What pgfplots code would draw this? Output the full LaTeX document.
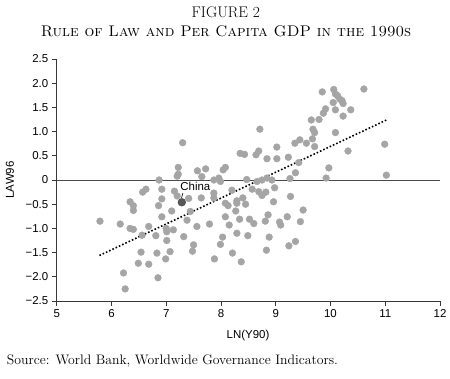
\documentclass[border=0pt]{standalone}
\usepackage{fontspec}
\newfontfamily\arial{Liberation Sans}
\usepackage{pgfplots}
\pgfplotsset{compat=1.18}
\pgfplotstableread{
x y
5.79 -0.85
6.16 -0.91
6.22 -1.92
6.25 -2.25
6.34 -0.45
6.40 -0.53
6.40 -0.63
6.34 -1.00
6.40 -1.02
6.49 -1.72
6.54 -1.49
6.56 -1.14
6.57 -0.25
6.63 -0.19
6.68 -0.96
6.68 -1.74
6.81 -1.15
6.83 -1.51
6.85 -2.02
6.86 -0.53
6.87 0.00
6.92 -0.19
6.92 -0.39
6.92 -0.76
7.00 -1.00
7.01 -1.07
7.01 -1.25
6.99 -1.63
7.07 -1.48
7.10 -0.64
7.13 -1.03
7.15 -0.23
7.20 -0.33
7.20 0.08
7.22 0.12
7.22 0.26
7.30 0.77
7.32 -1.17
7.38 -0.83
7.41 -0.38
7.44 -0.65
7.48 -1.47
7.50 -1.34
7.56 -0.96
7.57 0.19
7.64 -0.37
7.65 0.07
7.72 0.23
7.79 -0.91
7.87 0.00
7.87 -0.27
7.87 -0.37
7.88 -1.63
7.96 0.04
7.99 -0.03
7.99 -1.33
8.03 -1.18
8.04 0.21
8.08 0.26
8.08 -0.48
8.13 -0.53
8.08 -0.76
8.15 -0.93
8.20 -0.21
8.21 -1.51
8.27 -0.64
8.29 -0.43
8.29 -0.48
8.29 -1.10
8.34 -0.81
8.35 0.55
8.43 0.53
8.37 -1.69
8.40 -0.37
8.45 -0.50
8.47 0.01
8.49 -1.15
8.52 -0.81
8.57 -0.19
8.60 -0.90
8.64 0.52
8.66 -0.03
8.69 0.60
8.69 -0.24
8.71 1.05
8.75 0.00
8.75 -0.32
8.81 -0.85
8.82 -0.25
8.83 -1.45
8.84 0.44
8.84 0.04
8.86 -0.72
8.88 -1.18
8.93 0.00
8.96 -0.45
8.98 -0.16
9.02 0.68
9.02 0.44
9.07 -0.87
9.09 -0.93
9.21 -0.76
9.23 0.47
9.24 -1.36
9.26 0.03
9.27 -0.34
9.35 0.76
9.36 0.15
9.36 -1.27
9.42 0.36
9.44 0.83
9.45 -0.86
9.50 -0.62
9.56 0.76
9.65 1.24
9.67 0.85
9.68 1.05
9.71 0.98
9.71 0.69
9.79 1.25
9.85 1.82
9.87 1.38
9.91 1.47
9.92 0.04
9.97 0.25
10.05 1.60
10.06 1.87
10.09 1.78
10.13 1.74
10.17 1.67
10.21 1.64
10.23 1.58
10.09 1.45
10.09 0.98
10.23 1.32
10.32 0.60
10.37 1.45
10.61 1.88
10.99 0.74
11.02 0.10
}\lawdata
\definecolor{dotgray}{RGB}{165,165,165}
\definecolor{axgray}{RGB}{55,55,55}
\begin{document}
\begin{tikzpicture}[x=1bp,y=1bp]
\begin{axis}[
  scale only axis, width=383.3bp, height=242bp,
  xmin=5, xmax=12, ymin=-2.5, ymax=2.5,
  axis x line=bottom, axis y line=left,
  axis line style={-, draw=axgray, line width=0.9pt},
  tick align=outside, major tick length=5bp,
  tick style={axgray, line width=0.9pt},
  xtick={5,6,7,8,9,10,11,12},
  ytick={-2.5,-2,-1.5,-1,-0.5,0,0.5,1,1.5,2,2.5},
  yticklabels={−2.5,−2.0,−1.5,−1.0,−0.5,0,0.5,1.0,1.5,2.0,2.5},
  /pgf/number format/assume math mode=true,
  tick label style={font=\arial\fontsize{11.5}{13}\selectfont},
  clip=false,
]
\coordinate (O) at (rel axis cs:0,0);
\addplot[axgray!90, line width=0.9pt, forget plot] coordinates {(5,0) (12,0)};
\addplot[only marks, mark=*, mark size=3.4bp, mark options={fill=dotgray, draw=dotgray}] table[x=x,y=y] {\lawdata};
\addplot[black, line width=1.6pt, dotted] coordinates {(5.78,-1.56) (11.04,1.25)};
\addplot[only marks, mark=*, mark size=3.9bp, mark options={fill=black!65, draw=black!75}] coordinates {(7.285,-0.46)};
\draw[black, line width=0.6pt] (axis cs:7.305,-0.27) -- (axis cs:7.28,-0.37);
\node[anchor=base west, inner sep=0pt, font=\arial\fontsize{11.5}{13}\selectfont] at (axis cs:7.256,-0.227) {China};
\end{axis}
\begin{scope}[shift={(O)}, xshift=-56.7bp, yshift=-77bp]
\useasboundingbox (0,0) rectangle (450,378);
\node[anchor=base, inner sep=0pt, font=\fontsize{15.5}{18}\selectfont] at (225.8,360.7) {FIGURE 2};
\node[anchor=base, inner sep=0pt, font=\fontsize{15.5}{18}\selectfont\scshape] at (226,341.3) {Rule of Law and Per Capita GDP in the 1990s};
\node[anchor=base west, inner sep=0pt, font=\fontsize{13.8}{16}\selectfont] at (6.7,14) {Source: World Bank, Worldwide Governance Indicators.};
\node[font=\arial\fontsize{11.5}{13}\selectfont] at (248,42) {LN(Y90)};
\node[rotate=90, font=\arial\fontsize{11.5}{13}\selectfont] at (10,198) {LAW96};
\end{scope}
\end{tikzpicture}
\end{document}
